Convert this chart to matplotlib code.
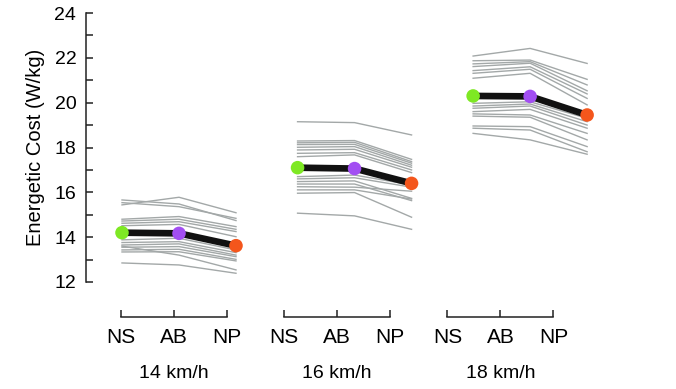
import numpy as np
import matplotlib
matplotlib.use("Agg")
import matplotlib.pyplot as plt
from matplotlib.ticker import MultipleLocator, FuncFormatter

plt.rcParams['font.family'] = ['Liberation Sans', 'DejaVu Sans']

conditions = ["NS", "AB", "NP"]
speeds = ["14 km/h", "16 km/h", "18 km/h"]

# individual runners, one value per condition (NS, AB, NP)
ns_14 = [15.54, 15.66, 15.44, 14.80, 14.72, 14.62, 14.51, 13.88, 13.76, 13.65, 13.55, 13.43, 13.34, 13.60, 12.85]
ab_14 = [15.36, 15.48, 15.78, 14.92, 14.80, 14.69, 14.57, 13.95, 13.80, 13.70, 13.58, 13.46, 13.35, 13.20, 12.76]
np_14 = [14.84, 14.74, 15.09, 14.47, 14.35, 14.25, 14.02, 13.43, 13.31, 13.20, 13.13, 13.01, 12.94, 12.54, 12.39]

ns_16 = [19.15, 18.29, 18.21, 18.13, 18.01, 17.89, 17.74, 17.59, 16.70, 16.60, 16.48, 16.37, 16.25, 16.11, 15.96, 15.07]
ab_16 = [19.11, 18.31, 18.23, 18.14, 18.04, 17.92, 17.77, 17.67, 16.77, 16.65, 16.51, 16.37, 16.23, 16.11, 15.99, 14.95]
np_16 = [18.56, 17.47, 17.37, 17.30, 17.21, 17.12, 17.00, 16.88, 16.33, 16.23, 15.73, 15.63, 16.05, 15.70, 14.89, 14.35]

ns_18 = [22.08, 21.87, 21.73, 21.61, 21.43, 21.31, 21.09, 19.97, 19.85, 19.75, 19.60, 19.50, 19.40, 18.96, 18.86, 18.63]
ab_18 = [22.42, 21.90, 21.83, 21.76, 21.60, 21.49, 21.31, 20.04, 19.94, 19.85, 19.70, 19.45, 19.35, 18.93, 18.78, 18.34]
np_18 = [21.75, 21.04, 20.79, 20.53, 20.39, 20.19, 19.90, 19.30, 19.15, 19.00, 18.86, 18.63, 18.34, 18.04, 17.81, 17.70]

# group means
mean_14 = [14.20, 14.17, 13.62]
mean_16 = [17.10, 17.06, 16.40]
mean_18 = [20.30, 20.28, 19.45]

dot_colors = ['#7ee824', '#a24ef2', '#f4561c']

groups = [
    (ns_14, ab_14, np_14, mean_14),
    (ns_16, ab_16, np_16, mean_16),
    (ns_18, ab_18, np_18, mean_18),
]
gap = 3.08

W, H = 676, 389
fig = plt.figure(figsize=(W / 100, H / 100), dpi=100)

left_px, right_px = 86, 640
ax = fig.add_axes([left_px / W, (H - 282) / H, (right_px - left_px) / W, 269 / H])
x0 = -(122 - left_px) / 57
ax.set_xlim(x0, x0 + (right_px - left_px) / 57)
ax.set_ylim(12, 24)

for g, (ns, ab, npv, mean) in enumerate(groups):
    xs = g * gap + np.arange(3)
    for a, b, c in zip(ns, ab, npv):
        ax.plot(xs, [a, b, c], color='#a3a8a8', lw=1.0, zorder=1, clip_on=False)
    ax.plot(xs, mean, color='#111111', lw=4.8, zorder=2, solid_capstyle='round')
    ax.scatter(xs, mean, s=95, c=dot_colors, zorder=3, edgecolors='none', clip_on=False)

for s in ['top', 'right', 'bottom']:
    ax.spines[s].set_visible(False)
ax.spines['left'].set_linewidth(1.1)
ax.spines['left'].set_color('#222222')
ax.set_xticks([])
ax.yaxis.set_major_locator(MultipleLocator(1))
ax.yaxis.set_major_formatter(FuncFormatter(lambda v, p: f"{int(v)}" if int(v) % 2 == 0 else ""))
ax.tick_params(axis='y', direction='in', length=5, width=1.1, color='#222222',
               labelsize=14, pad=7)
ax.set_ylabel("Energetic Cost (W/kg)", fontsize=14.5, labelpad=7)

# separate category axes under each speed group
t0 = -(121 - left_px) / 53
for g in range(3):
    tax = fig.add_axes([left_px / W, (H - 317) / H, (right_px - left_px) / W, 0.001])
    tax.patch.set_visible(False)
    tax.set_xlim(t0, t0 + (right_px - left_px) / 53)
    for s in ['top', 'right', 'left']:
        tax.spines[s].set_visible(False)
    pos = g * gap + np.arange(3)
    tax.spines['bottom'].set_bounds(pos[0], pos[-1])
    tax.spines['bottom'].set_linewidth(1.1)
    tax.spines['bottom'].set_color('#222222')
    tax.set_yticks([])
    tax.set_xticks(pos)
    tax.set_xticklabels(conditions)
    tax.tick_params(axis='x', direction='in', length=5, width=1.1, color='#222222',
                    labelsize=15, pad=8)
    tax.annotate(speeds[g], xy=(pos[1], 0), xycoords=('data', 'axes fraction'),
                 xytext=(0, -41), textcoords='offset points',
                 ha='center', va='center', fontsize=14)

fig.savefig("out.png", dpi=100)
